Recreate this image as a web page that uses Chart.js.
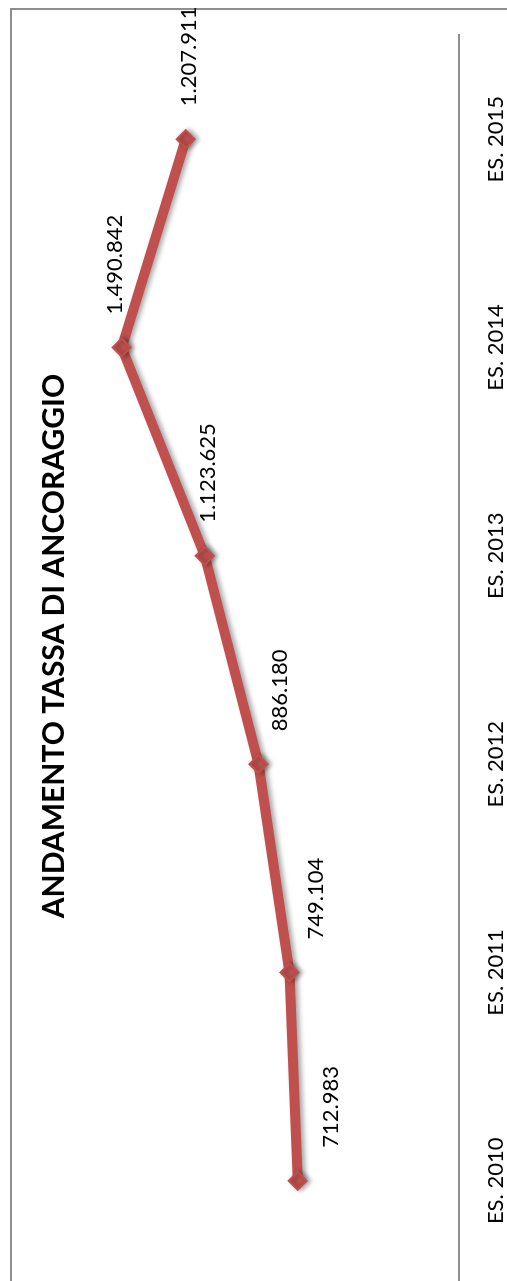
<!DOCTYPE html>
<html lang="it">
<head>
<meta charset="utf-8">
<title>Andamento tassa di ancoraggio</title>
<script src="https://cdn.jsdelivr.net/npm/chart.js@4/dist/chart.umd.min.js"></script>
<style>
  html, body { margin: 0; padding: 0; background: #fff; overflow: hidden; }
  body { width: 507px; height: 1281px; position: relative; }
  /* il grafico è ruotato di 90° in senso antiorario */
  #wrap {
    position: absolute; left: 0; top: 0;
    width: 1301px; height: 507px;
    transform-origin: 0 0;
    transform: translate(0, 1301px) rotate(-90deg);
  }
</style>
</head>
<body>
<div id="wrap"><canvas id="tassaChart" width="1301" height="507"></canvas></div>
<script>
// DATI
const categories = ["ES. 2010", "ES. 2011", "ES. 2012", "ES. 2013", "ES. 2014", "ES. 2015"];
const tassaValues = [712983, 749104, 886180, 1123625, 1490842, 1207911];
// spostamento verticale delle etichette (come nel grafico originale)
const labelNudge = [33, 26, 21, 3, -7, 3];

const RED = "#c0504d";
const GREY = "#8e8e8e";

function formatIt(v) {
  return String(v).replace(/\B(?=(\d{3})+(?!\d))/g, ".");
}

// BORDO DEL GRAFICO
const chartBorder = {
  id: "chartBorder",
  beforeDraw(chart) {
    const c = chart.ctx;
    c.save();
    c.strokeStyle = GREY;
    c.lineWidth = 2;
    c.beginPath();
    c.moveTo(0, 11);
    c.lineTo(1292, 11);
    c.lineTo(1292, chart.height);
    c.stroke();
    c.restore();
  },
};

// OMBRA SULLA LINEA
const lineShadow = {
  id: "lineShadow",
  beforeDatasetDraw(chart) {
    const c = chart.ctx;
    c.save();
    c.shadowColor = "rgba(0,0,0,0.35)";
    c.shadowBlur = 5;
    c.shadowOffsetX = 0;
    c.shadowOffsetY = 3;
  },
  afterDatasetDraw(chart) {
    chart.ctx.restore();
  },
};

// ETICHETTE DEI VALORI
const valueLabels = {
  id: "valueLabels",
  afterDatasetsDraw(chart) {
    const c = chart.ctx;
    const meta = chart.getDatasetMeta(0);
    c.save();
    c.font = "22px Lato";
    c.fillStyle = "#000";
    c.textAlign = "left";
    c.textBaseline = "middle";
    meta.data.forEach((pt, i) => {
      c.fillText(formatIt(tassaValues[i]), pt.x + 33, pt.y + labelNudge[i]);
    });
    c.restore();
  },
};

function drawChart() {
  const ctx = document.getElementById("tassaChart").getContext("2d");
  new Chart(ctx, {
    type: "line",
    data: {
      labels: categories,
      datasets: [
        {
          label: "Tassa di ancoraggio",
          data: tassaValues,
          borderColor: RED,
          backgroundColor: RED,
          borderWidth: 10,
          tension: 0,
          pointStyle: "rectRot",
          pointRadius: 9,
          pointBorderWidth: 2,
          pointBackgroundColor: RED,
          pointBorderColor: RED,
          clip: false,
        },
      ],
    },
    options: {
      responsive: false,
      animation: false,
      devicePixelRatio: 1,
      layout: { padding: { left: 16, right: 7, top: 0, bottom: 0 } },
      plugins: {
        legend: { display: false },
        tooltip: { enabled: false },
        title: {
          display: true,
          text: "ANDAMENTO TASSA DI ANCORAGGIO",
          color: "#000",
          font: { family: "Lato", size: 30, weight: "bold" },
          padding: { top: 36, bottom: 25 },
        },
      },
      scales: {
        x: {
          offset: true,
          grid: { display: false, drawTicks: false },
          border: { display: true, color: GREY, width: 2 },
          ticks: { color: "#000", font: { family: "Lato", size: 22 }, padding: 24, maxRotation: 0 },
          afterFit(scale) { scale.height = 48; },
        },
        y: {
          position: "right",
          min: 0,
          max: 1600000,
          grid: { display: false, drawTicks: false },
          border: { display: false },
          ticks: { display: false },
          afterFit(scale) { scale.width = 28; },
        },
      },
    },
    plugins: [chartBorder, lineShadow, valueLabels],
  });
}

document.fonts.load("bold 30px Lato").then(() => document.fonts.load("22px Lato")).then(drawChart, drawChart);
</script>
</body>
</html>
